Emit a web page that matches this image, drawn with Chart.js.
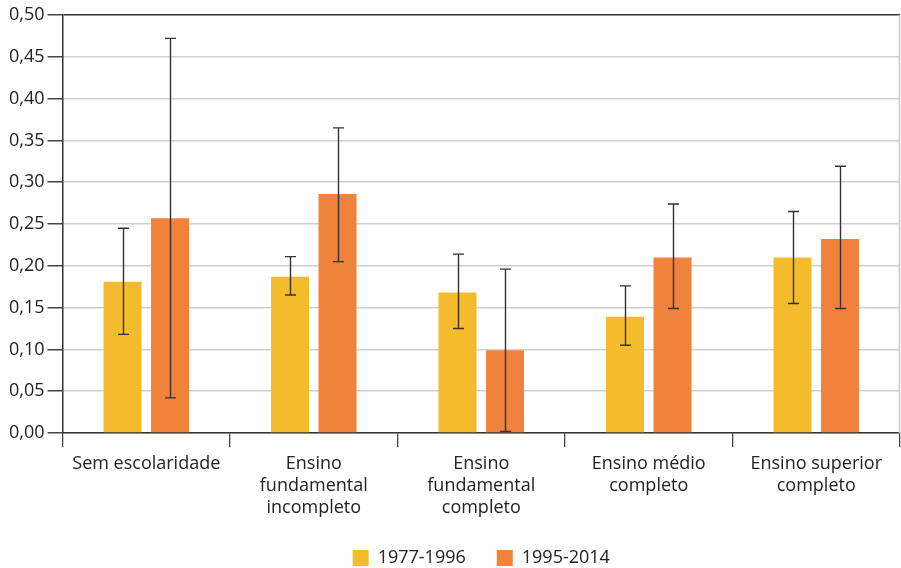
<!DOCTYPE html>
<html>
<head>
<meta charset="utf-8">
<script src="https://cdn.jsdelivr.net/npm/chart.js@4.4.1/dist/chart.umd.min.js"></script>
<style>
  html, body { margin: 0; padding: 0; background: #fff; }
  #wrap { width: 901px; height: 568px; }
</style>
</head>
<body>
<div id="wrap"><canvas id="c" width="901" height="568"></canvas></div>
<script>
const categories = [
  'Sem escolaridade',
  ['Ensino', 'fundamental', 'incompleto'],
  ['Ensino', 'fundamental', 'completo'],
  ['Ensino médio', 'completo'],
  ['Ensino superior', 'completo']
];
const seriesNames = ['1977-1996', '1995-2014'];

const values1977 = [0.181, 0.187, 0.168, 0.139, 0.210];
const low1977    = [0.118, 0.165, 0.125, 0.105, 0.155];
const high1977   = [0.245, 0.211, 0.214, 0.176, 0.265];

const values1995 = [0.257, 0.286, 0.099, 0.210, 0.232];
const low1995    = [0.042, 0.205, 0.002, 0.149, 0.149];
const high1995   = [0.472, 0.365, 0.196, 0.274, 0.319];

const yTicks = [0, 0.05, 0.10, 0.15, 0.20, 0.25, 0.30, 0.35, 0.40, 0.45, 0.50];

const FONT = "'Open Sans', 'Noto Sans', sans-serif";

// Draws the confidence interval whiskers on top of each bar
const errorBars = {
  id: 'errorBars',
  afterDatasetsDraw(chart) {
    const ctx = chart.ctx;
    const y = chart.scales.y;
    ctx.save();
    ctx.strokeStyle = '#333';
    ctx.lineWidth = 1.4;
    chart.data.datasets.forEach((ds, di) => {
      const meta = chart.getDatasetMeta(di);
      meta.data.forEach((bar, i) => {
        const x = Math.round(bar.x) + 0.5;
        const yl = y.getPixelForValue(ds.errLow[i]);
        const yh = y.getPixelForValue(ds.errHigh[i]);
        ctx.beginPath();
        ctx.moveTo(x, yl); ctx.lineTo(x, yh);
        ctx.moveTo(x - 5.5, yl); ctx.lineTo(x + 5.5, yl);
        ctx.moveTo(x - 5.5, yh); ctx.lineTo(x + 5.5, yh);
        ctx.stroke();
      });
    });
    ctx.restore();
  }
};

// Light frame line on the right edge of the plot
const frame = {
  id: 'frame',
  beforeDatasetsDraw(chart) {
    const { ctx, chartArea } = chart;
    ctx.save();
    ctx.strokeStyle = '#c8c8c8';
    ctx.lineWidth = 1.5;
    ctx.beginPath();
    ctx.moveTo(chartArea.right - 0.5, chartArea.top);
    ctx.lineTo(chartArea.right - 0.5, chartArea.bottom);
    ctx.stroke();
    ctx.restore();
  }
};

new Chart(document.getElementById('c'), {
  type: 'bar',
  data: {
    labels: categories,
    datasets: [
      { label: seriesNames[0], data: values1977, errLow: low1977, errHigh: high1977,
        backgroundColor: '#F4BC2C', borderWidth: 0 },
      { label: seriesNames[1], data: values1995, errLow: low1995, errHigh: high1995,
        backgroundColor: '#F0823C', borderWidth: 0 }
    ]
  },
  options: {
    responsive: false,
    animation: false,
    devicePixelRatio: 1,
    categoryPercentage: 0.567,
    barPercentage: 0.8,
    layout: { padding: { top: 15, right: 1, left: 6, bottom: -9 } },
    plugins: {
      legend: {
        position: 'bottom',
        fullSize: false,
        labels: {
          boxWidth: 16, boxHeight: 16, padding: 31,
          color: '#222', font: { family: FONT, size: 18 }
        }
      },
      tooltip: { enabled: false }
    },
    scales: {
      x: {
        afterFit(scale) { scale.height -= 7; },
        grid: { drawOnChartArea: false, tickLength: 14, color: '#444', lineWidth: 1.3 },
        border: { color: '#333', width: 1.5 },
        ticks: { color: '#222', font: { family: FONT, size: 18, lineHeight: 1.222 }, maxRotation: 0, padding: 6 }
      },
      y: {
        min: 0, max: 0.5,
        afterBuildTicks(axis) { axis.ticks = yTicks.map(v => ({ value: v })); },
        grid: {
          tickLength: 15,
          tickColor: '#444',
          color: ctx => (ctx.tick && ctx.tick.value === 0.5) ? '#333' : '#d0d0d0',
          lineWidth: 1.5
        },
        border: { color: '#333', width: 1.5 },
        ticks: {
          color: '#222', padding: 3,
          font: { family: FONT, size: 18 },
          callback: v => v.toFixed(2).replace('.', ',')
        }
      }
    }
  },
  plugins: [frame, errorBars]
});
</script>
</body>
</html>
